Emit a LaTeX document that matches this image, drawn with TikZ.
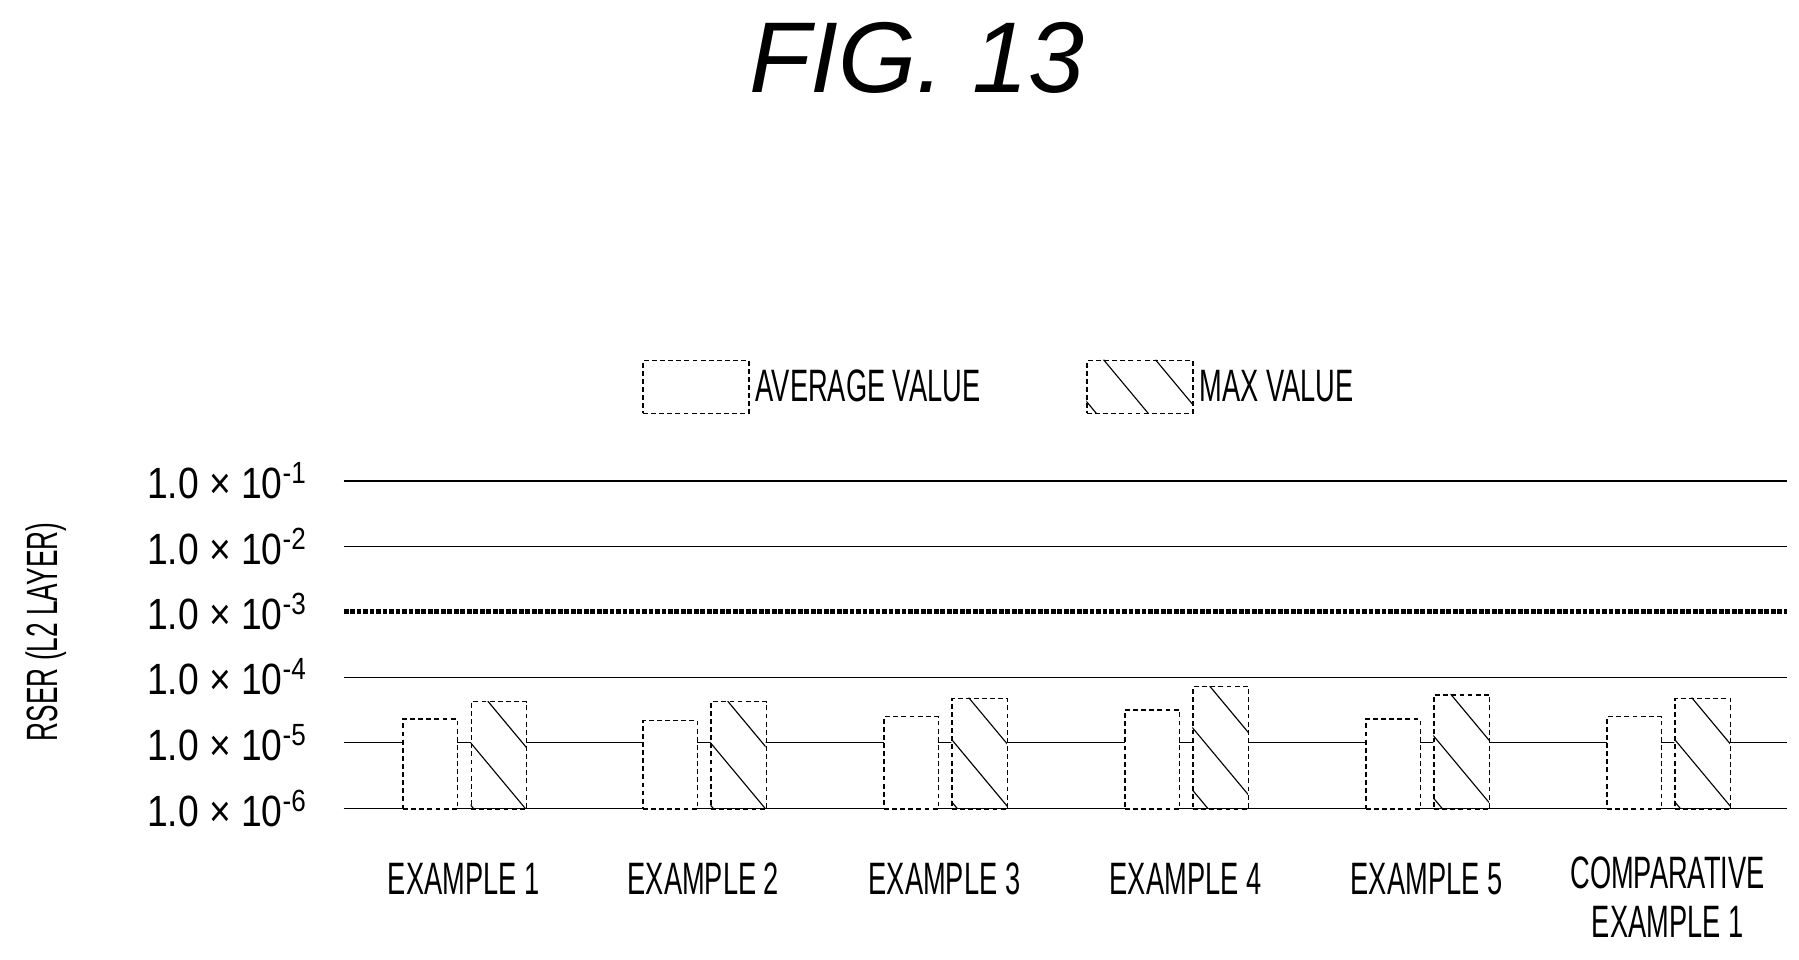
\documentclass[tikz,border=0pt]{standalone}
\usepackage{fontspec}
\setmainfont{Liberation Sans}
\begin{document}
\begin{tikzpicture}[x=0.025cm,y=-0.025cm,
 lab/.style={font=\fontsize{28}{32}\selectfont,inner sep=0pt,align=center},
 tick/.style={font=\fontsize{27}{30}\selectfont,inner sep=0pt,anchor=east},
 bar/.style={draw,densely dashed,line width=0.8pt},
 grid/.style={line width=0.8pt}]
\useasboundingbox (0,0) rectangle (1560,832);
\newcommand{\cx}[1]{\scalebox{0.6}[1]{#1}}
\node[font=\fontsize{62}{70}\selectfont\itshape,inner sep=0pt] (title) at (795,50) {FIG. 13};
% legend
\node[bar,inner sep=0pt,anchor=north west,minimum width=92*0.025cm,minimum height=46*0.025cm] (lavg) at (557,312) {};
\node[lab,anchor=west] (lavgt) at (655,335) {\cx{AVERAGE VALUE}};
\begin{scope}\clip (942,312) rectangle (1034,358);
 \foreach \k in {-300,-255,...,300} \draw[line width=0.7pt] (942+\k,312) -- ++(300,360);
\end{scope}
\node[bar,inner sep=0pt,anchor=north west,minimum width=92*0.025cm,minimum height=46*0.025cm] (lmax) at (942,312) {};
\node[lab,anchor=west] (lmaxt) at (1040,335) {\cx{MAX VALUE}};
% grid
\draw[grid] (298,417) -- (1550,417);
\draw[grid,line width=0.5pt] (298,474) -- (1550,474);
\draw[line width=3pt,densely dotted] (298,530) -- (1550,530);
\draw[grid,line width=0.5pt] (298,587) -- (1550,587);
\draw[grid] (298,644) -- (1550,644);
\draw[grid] (298,701) -- (1550,701);
\foreach \y/\e in {417/1,474/2,530/3,587/4,644/5,701/6}
 \node[tick] (t\e) at (266,\y) {\scalebox{0.85}[1]{1.0 × 10\textsuperscript{-\e}}};
\node[lab,rotate=90,font=\fontsize{27}{30}\selectfont] (ylab) at (40,548) {\cx{RSER (L2 LAYER)}};
% bars
\foreach \n/\ax/\at/\mt in {1/349/623/608,2/557/624/608,3/766/621/605,4/975/615/595,5/1184/623/602,6/1393/621/605}{
 \node[bar,fill=white,inner sep=0pt,anchor=north west,minimum width=47*0.025cm,minimum height={(701-\at)*0.025cm}] (a\n) at (\ax,\at) {};
 \pgfmathsetmacro{\mx}{\ax+59}\pgfmathsetmacro{\mxx}{\ax+107}
 \begin{scope}\clip (\mx,\mt) rectangle (\mxx,701);
 \fill[white] (\mx,\mt) rectangle (\mxx,701);
 \foreach \k in {-300,-255,...,300} \draw[line width=0.7pt] (\mx+\k,\mt) -- ++(300,360);
 \end{scope}
 \node[bar,inner sep=0pt,anchor=north west,minimum width=48*0.025cm,minimum height={(701-\mt)*0.025cm}] (m\n) at (\mx,\mt) {};
}
\foreach \n/\x/\t in {1/402/EXAMPLE 1,2/610/EXAMPLE 2,3/819/EXAMPLE 3,4/1028/EXAMPLE 4,5/1237/EXAMPLE 5}
 \node[lab] (x\n) at (\x,762) {\cx{\t}};
\node[lab] (x6) at (1446,778) {\cx{COMPARATIVE}\\[-2pt]\cx{EXAMPLE 1}};
\end{tikzpicture}
\end{document}
